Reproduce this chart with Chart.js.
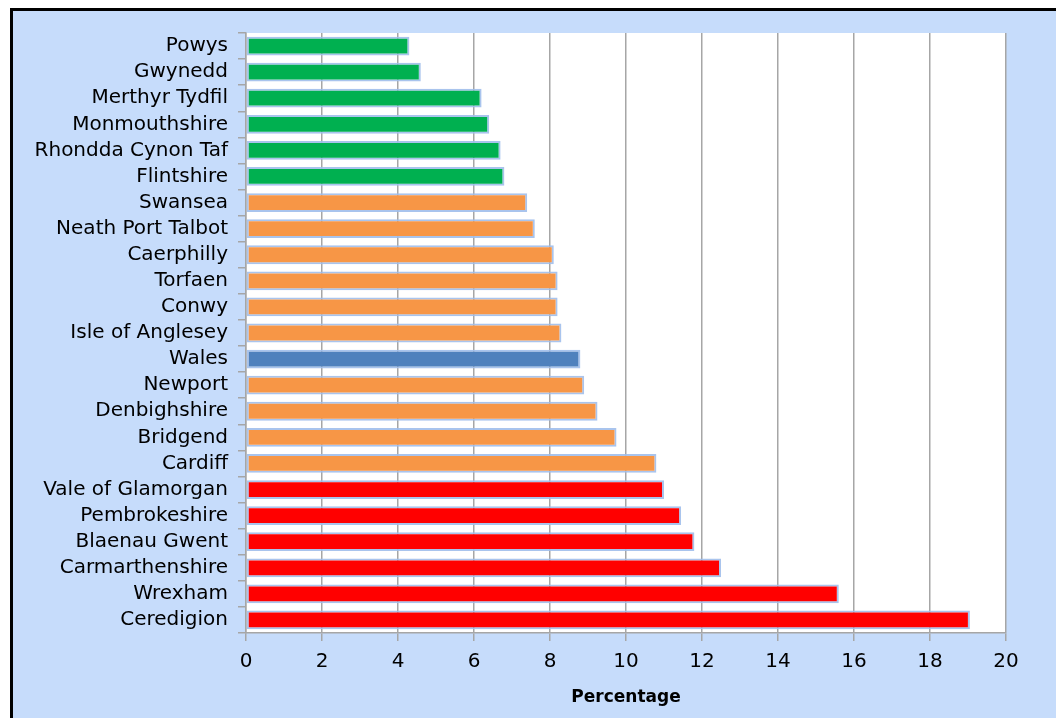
<!DOCTYPE html>
<html>
<head>
<meta charset="utf-8">
<script src="https://cdn.jsdelivr.net/npm/chart.js@4/dist/chart.umd.min.js"></script>
<style>
  html, body { margin: 0; padding: 0; background: #ffffff; }
  #chart { display: block; }
</style>
</head>
<body>
<canvas id="chart" width="1056" height="718"></canvas>
<script>
const areas = [
  'Powys', 'Gwynedd', 'Merthyr Tydfil', 'Monmouthshire', 'Rhondda Cynon Taf', 'Flintshire',
  'Swansea', 'Neath Port Talbot', 'Caerphilly', 'Torfaen', 'Conwy', 'Isle of Anglesey',
  'Wales', 'Newport', 'Denbighshire', 'Bridgend', 'Cardiff',
  'Vale of Glamorgan', 'Pembrokeshire', 'Blaenau Gwent', 'Carmarthenshire', 'Wrexham', 'Ceredigion'
]
const percentages = [
  4.3, 4.6, 6.2, 6.4, 6.7, 6.8,
  7.4, 7.6, 8.1, 8.2, 8.2, 8.3,
  8.8, 8.9, 9.25, 9.75, 10.8,
  11.0, 11.45, 11.8, 12.5, 15.6, 19.05
]
// band per area: low / mid / high, plus the all-Wales figure
const bands = [
  'low', 'low', 'low', 'low', 'low', 'low',
  'mid', 'mid', 'mid', 'mid', 'mid', 'mid',
  'wales', 'mid', 'mid', 'mid', 'mid',
  'high', 'high', 'high', 'high', 'high', 'high'
]
const xTicks = [0, 2, 4, 6, 8, 10, 12, 14, 16, 18, 20]

const bandColours = { low: '#00b050', mid: '#f79646', wales: '#4f81bd', high: '#ff0000' }

const frame = {
  id: 'frame',
  beforeDraw(chart) {
    const ctx = chart.ctx
    const a = chart.chartArea
    ctx.save()
    ctx.fillStyle = '#ffffff'
    ctx.fillRect(0, 0, chart.width, chart.height)
    ctx.fillStyle = '#c6dcfb'
    ctx.fillRect(10, 8, chart.width - 10, chart.height - 8)
    ctx.fillStyle = '#000000'
    ctx.fillRect(10, 8, chart.width - 10, 3)
    ctx.fillRect(10, 8, 3, chart.height - 8)
    ctx.fillStyle = '#ffffff'
    ctx.fillRect(a.left, a.top, a.right - a.left, a.bottom - a.top)
    ctx.restore()
  }
}

const font = { family: '"DejaVu Sans", Verdana, sans-serif', size: 20 }

new Chart(document.getElementById('chart'), {
  type: 'bar',
  data: {
    labels: areas,
    datasets: [{
      data: percentages,
      backgroundColor: bands.map(b => bandColours[b]),
      borderColor: 'rgba(160,190,235,0.9)',
      borderWidth: 2,
      borderSkipped: false,
      categoryPercentage: 1,
      barPercentage: 0.72
    }]
  },
  options: {
    indexAxis: 'y',
    responsive: false,
    animation: false,
    layout: { padding: { left: 0, top: 33, right: 50, bottom: 0 } },
    plugins: { legend: { display: false }, tooltip: { enabled: false } },
    scales: {
      x: {
        min: 0,
        max: 20,
        afterBuildTicks: axis => { axis.ticks = xTicks.map(v => ({ value: v })) },
        afterFit: axis => { axis.height = 85 },
        grid: { color: '#a6a6a6', lineWidth: 1.5, tickLength: 8 },
        border: { color: '#a6a6a6', width: 1.5 },
        ticks: { color: '#000000', font: font, padding: 9 },
        title: {
          display: true,
          text: 'Percentage',
          color: '#000000',
          font: { family: font.family, size: 17, weight: 'bold' },
          padding: { top: 4, bottom: 10 }
        }
      },
      y: {
        afterFit: axis => { axis.width = 246 },
        grid: { drawOnChartArea: false, color: '#a6a6a6', lineWidth: 1.5, tickLength: 8, offset: true },
        border: { color: '#a6a6a6', width: 1.5 },
        ticks: { color: '#000000', font: font, padding: 10, autoSkip: false }
      }
    }
  },
  plugins: [frame]
})
</script>
</body>
</html>
